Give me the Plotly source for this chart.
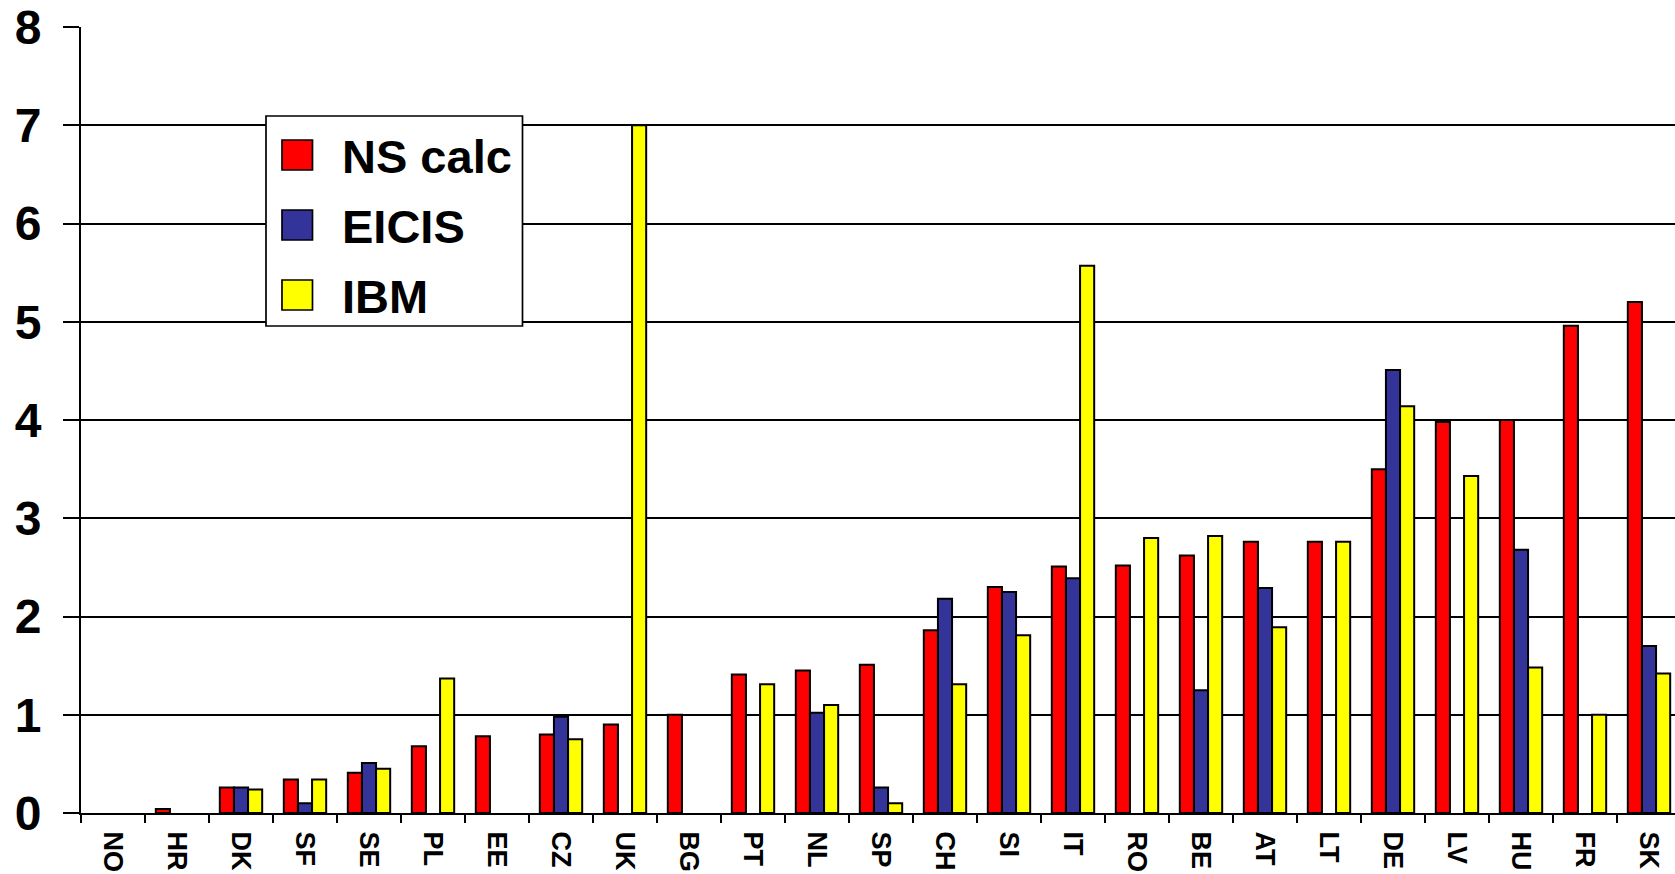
import plotly.graph_objects as go

categories = ["NO", "HR", "DK", "SF", "SE", "PL", "EE", "CZ", "UK", "BG", "PT", "NL", "SP",
              "CH", "SI", "IT", "RO", "BE", "AT", "LT", "DE", "LV", "HU", "FR", "SK"]
ns_calc = [None, 0.04, 0.26, 0.34, 0.41, 0.68, 0.78, 0.80, 0.90, 1.00, 1.41, 1.45, 1.51,
           1.86, 2.30, 2.51, 2.52, 2.62, 2.76, 2.76, 3.50, 3.98, 4.00, 4.96, 5.20]
eicis = [None, None, 0.26, 0.10, 0.51, None, None, 0.98, None, None, None, 1.02, 0.26,
         2.18, 2.25, 2.39, None, 1.25, 2.29, None, 4.51, None, 2.68, None, 1.70]
ibm = [None, None, 0.24, 0.34, 0.45, 1.37, None, 0.75, 7.00, None, 1.31, 1.10, 0.10,
       1.31, 1.81, 5.57, 2.80, 2.82, 1.89, 2.76, 4.14, 3.43, 1.48, 1.00, 1.42]
y_ticks = [0, 1, 2, 3, 4, 5, 6, 7, 8]

series = [("NS calc", ns_calc, "#FF0000"),
          ("EICIS", eicis, "#333399"),
          ("IBM", ibm, "#FFFF00")]

W, H = 1675, 874
ML, MR, MT, MB = 81, 0, 27, 61
FONT = "Liberation Sans, Arial, sans-serif"

fig = go.Figure()
for name, vals, col in series:
    fig.add_trace(go.Bar(x=categories, y=vals, name=name, showlegend=False,
                         marker=dict(color=col, line=dict(color="black", width=2))))

pw = W - ML - MR
ph = H - MT - MB
def px(x):
    return (x - ML) / pw
def py(y):
    return 1 - (y - MT) / ph

# custom legend (box, swatches, labels)
shapes = [dict(type="rect", xref="paper", yref="paper", layer="above",
               x0=px(266), x1=px(522.5), y0=py(326), y1=py(116),
               fillcolor="white", line=dict(color="black", width=1.7))]
annotations = []
for i, (name, vals, col) in enumerate(series):
    cy = 155 + 70 * i
    shapes.append(dict(type="rect", xref="paper", yref="paper", layer="above",
                       x0=px(282), x1=px(312.5), y0=py(cy + 15), y1=py(cy - 15),
                       fillcolor=col, line=dict(color="black", width=1.7)))
    annotations.append(dict(xref="paper", yref="paper", x=px(340), y=py(cy + 1),
                            xanchor="left", yanchor="middle", showarrow=False,
                            text=name, font=dict(family=FONT, size=47, color="black", weight="bold")))

fig.update_layout(
    width=W, height=H,
    margin=dict(l=ML, r=MR, t=MT, b=MB, pad=0),
    paper_bgcolor="white", plot_bgcolor="white",
    barmode="group", bargap=0.338, bargroupgap=0,
    shapes=shapes, annotations=annotations,
    xaxis=dict(type="category", range=[-0.5, -0.5 + pw / 64.0],
               showline=True, linecolor="black", linewidth=2,
               ticks="outside", tickson="boundaries", ticklen=8, tickwidth=2, tickcolor="black",
               tickangle=90, showgrid=False, ticklabelstandoff=11,
               tickfont=dict(family=FONT, size=27, color="black", weight="bold")),
    yaxis=dict(range=[0, 8], tickvals=y_ticks, showline=True, linecolor="black", linewidth=2,
               ticks="outside", ticklen=16, tickwidth=1.7, tickcolor="black",
               showgrid=True, gridcolor="black", gridwidth=1.7, zeroline=False,
               ticklabelstandoff=12,
               tickfont=dict(family=FONT, size=48, color="black", weight="bold")),
)

fig.write_html("out.html", config={"displayModeBar": False},
               post_script="document.body.style.margin='0';document.body.style.padding='0';")
